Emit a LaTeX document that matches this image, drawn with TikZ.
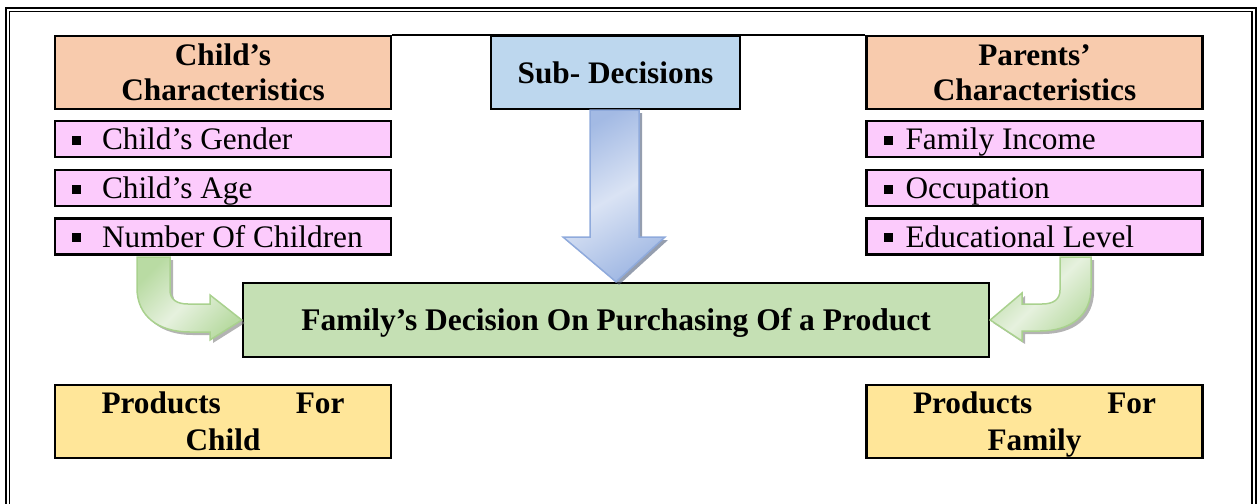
\documentclass[tikz,border=0pt]{standalone}
\usepackage{fontspec}
\setmainfont{Liberation Serif}
\usetikzlibrary{shadows,calc}
\definecolor{peach}{HTML}{F8CBAD}
\definecolor{pinkfill}{HTML}{FCCBFC}
\definecolor{bluefill}{HTML}{BDD7EE}
\definecolor{greenfill}{HTML}{C5E0B4}
\definecolor{yellowfill}{HTML}{FFE699}
\definecolor{arrblue}{HTML}{8FAADC}
\definecolor{arrbluedark}{HTML}{A3BAE4}
\definecolor{arrbluelight}{HTML}{DAE3F4}
\definecolor{arrgreen}{HTML}{A9D18E}
\definecolor{arrgreendark}{HTML}{B9DBA3}
\definecolor{arrgreenlight}{HTML}{E6F1DE}
\newcommand{\sqbul}{\raisebox{5pt}{\rule{9pt}{9pt}}}
\begin{document}
\begin{tikzpicture}[x=1pt,y=-1pt,
  box/.style={draw, line width=2.4pt, inner sep=0pt},
  titlebox/.style={box, fill=peach, minimum width=336pt, minimum height=73pt, align=center,
    font=\fontsize{31.3}{35}\selectfont\bfseries, text height=56.5pt, text depth=0pt},
  itembox/.style={box, fill=pinkfill, minimum width=336pt, minimum height=36pt, inner xsep=17pt,
    font=\fontsize{31.3}{35}\selectfont, text height=21pt, text depth=0pt},
  subbox/.style={box, fill=bluefill, minimum width=249pt, minimum height=73pt,
    font=\fontsize{31.3}{35}\selectfont\bfseries, text height=21pt, text depth=0pt},
  mainbox/.style={box, fill=greenfill, minimum width=746pt, minimum height=74pt,
    font=\fontsize{31.5}{35}\selectfont\bfseries, text height=21pt, text depth=0pt},
  prodbox/.style={box, fill=yellowfill, minimum width=336pt, minimum height=73pt, align=center,
    font=\fontsize{31.3}{37}\selectfont\bfseries, text height=58.5pt, text depth=0pt},
  bluearrow/.style={draw=arrblue, line width=1.5pt, left color=arrbluedark, right color=arrbluedark,
    middle color=arrbluelight, shading angle=30,
    drop shadow={shadow xshift=3pt, shadow yshift=-3pt, fill=black!45!arrblue, opacity=0.6}},
  greenarrow/.style={draw=arrgreen, line width=1.5pt, left color=arrgreendark, right color=arrgreendark,
    middle color=arrgreenlight, shading angle=45,
    drop shadow={shadow xshift=3pt, shadow yshift=-3pt, fill=gray, opacity=0.6}},
  frameout/.style={line width=2.4pt},
  framein/.style={line width=1.1pt}
]
\useasboundingbox (0,0) rectangle (1257,503);
% outer frame
\draw[frameout] (6,520) -- (6,8.3) -- (1256,8.3) -- (1256,520);
\draw[framein] (9.3,520) -- (9.3,11.8) -- (1252,11.8) -- (1252,520);

% left column
\node[titlebox] (child) at (223,72.5) {Child’s\\Characteristics};
\node[itembox] (gender) at (223,139) {\makebox[302pt][l]{\sqbul\hspace{21pt}Child’s Gender}};
\node[itembox] (age) at (223,188) {\makebox[302pt][l]{\sqbul\hspace{21pt}Child’s Age}};
\node[itembox] (num) at (223,236.5) {\makebox[302pt][l]{\sqbul\hspace{21pt}Number Of Children}};

% right column
\node[titlebox] (parents) at (1034.5,72.5) {Parents’\\Characteristics};
\node[itembox] (income) at (1034.5,139) {\makebox[302pt][l]{\sqbul\hspace{13pt}Family Income}};
\node[itembox] (occ) at (1034.5,188) {\makebox[302pt][l]{\sqbul\hspace{13pt}Occupation}};
\node[itembox] (edu) at (1034.5,236.5) {\makebox[302pt][l]{\sqbul\hspace{13pt}Educational Level}};

% top joining line
\draw[line width=2pt] (child.north east) -- (parents.north west);

% centre
\node[subbox] (sub) at (615.5,72.5) {Sub- Decisions};
\node[mainbox] (main) at (616,320) {Family’s Decision On Purchasing Of a Product};

% products
\node[prodbox] (pchild) at (223,421.5) {\makebox[243pt]{Products\hfill For}\\Child};
\node[prodbox] (pfamily) at (1034.5,421.5) {\makebox[243pt]{Products\hfill For}\\Family};

% block arrows
\path[bluearrow] ($(sub.south)+(-25.5,0)$) -- ($(sub.south)+(23.5,0)$) -- (639,237) -- (665,237)
  -- (main.north) -- (563,237) -- (590,237) -- cycle;

\path[greenarrow] (137,257) -- (137,288) .. controls (137,316) and (158,332) .. (190,332)
  -- (210,332) -- (210,340) -- (main.west) -- (210,295) -- (210,304) -- (188,304)
  .. controls (176,304) and (170,299) .. (170,290) -- (170,257) -- cycle;

\path[greenarrow] (1091,257) -- (1091,288) .. controls (1091,316) and (1070,331) .. (1040,331)
  -- (1022,331) -- (1022,341) -- (main.east) -- (1022,293) -- (1022,304) -- (1042,304)
  .. controls (1054,304) and (1060,299) .. (1060,290) -- (1060,257) -- cycle;
\end{tikzpicture}
\end{document}
